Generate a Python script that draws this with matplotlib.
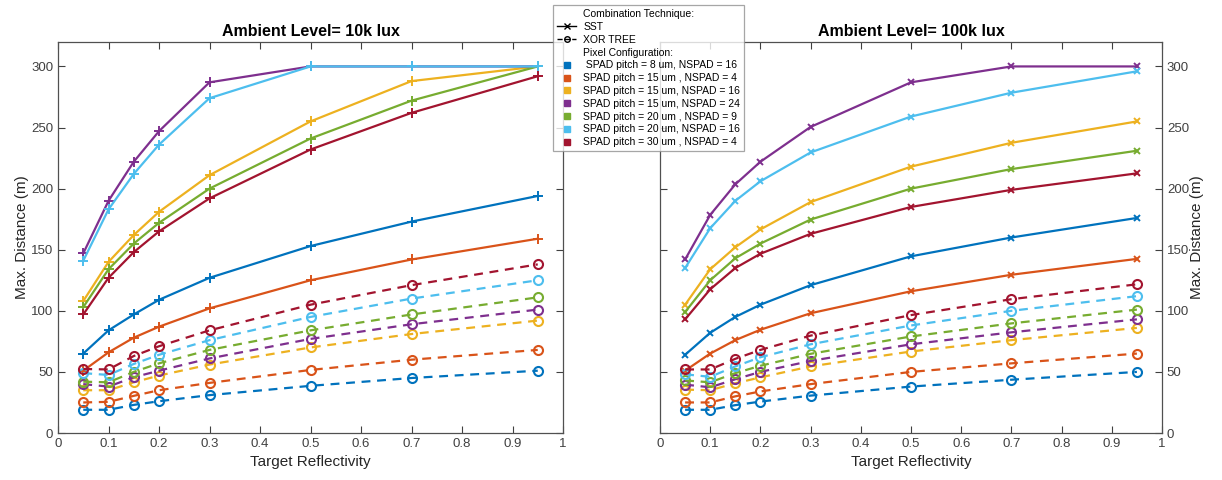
import matplotlib
matplotlib.use("Agg")
import matplotlib.pyplot as plt
from matplotlib.lines import Line2D

plt.rcParams["font.family"] = ["Liberation Sans", "DejaVu Sans"]

COLORS = ["#0072BD", "#D95319", "#EDB120", "#7E2F8E", "#77AC30", "#4DBEEE", "#A2142F"]
CONFIGS = [
    " SPAD pitch = 8 um, NSPAD = 16",
    "SPAD pitch = 15 um , NSPAD = 4",
    "SPAD pitch = 15 um, NSPAD = 16",
    "SPAD pitch = 15 um, NSPAD = 24",
    "SPAD pitch = 20 um , NSPAD = 9",
    "SPAD pitch = 20 um, NSPAD = 16",
    "SPAD pitch = 30 um , NSPAD = 4",
]

reflectivity = [0.05, 0.1, 0.15, 0.2, 0.3, 0.5, 0.7, 0.95]

# Ambient 10k lux, one row per pixel configuration (same order as CONFIGS)
sst_10k = [
    [65, 84, 97, 109, 127, 153, 173, 194],
    [51, 66, 78, 87, 102, 125, 142, 159],
    [108, 140, 162, 181, 211, 255, 288, 300],
    [147, 190, 222, 247, 287, 300, 300, 300],
    [103, 134, 155, 172, 200, 241, 272, 300],
    [141, 183, 212, 236, 274, 300, 300, 300],
    [97, 127, 148, 165, 192, 232, 262, 292],
]
xor_10k = [
    [19, 19, 23, 26, 31, 38.6, 45, 51],
    [25, 25.5, 30.4, 35, 41, 51.6, 60, 68],
    [35, 35, 41.5, 47, 56, 70, 81, 92],
    [40, 38, 45.6, 51, 61, 77, 89, 101],
    [42, 41.5, 50, 57, 68, 84, 97, 111],
    [49, 47.5, 56.5, 64, 76, 95, 110, 125],
    [52.4, 52, 63, 71, 84, 105, 121, 138],
]

# Ambient 100k lux
sst_100k = [
    [64, 82, 95, 105, 121, 144.6, 160, 176],
    [51, 65, 76, 84.5, 98, 116, 129.5, 142.5],
    [105, 134, 152, 166.6, 189, 218, 237.5, 255],
    [142, 178.5, 203.5, 222, 250.5, 287, 300, 300],
    [99, 125, 143, 155, 174.7, 200, 216, 231],
    [135, 167.6, 190, 206, 229.6, 259, 278.5, 296],
    [93, 117.6, 135, 146.7, 163, 185, 199, 212.5],
]
xor_100k = [
    [19, 19, 22.8, 25.7, 30.6, 38, 43.6, 50],
    [25, 25, 30, 34, 40, 50, 57, 65],
    [35.5, 35, 40.7, 45.5, 54.5, 66.7, 76, 86],
    [39.6, 37.4, 44, 50, 59, 72.6, 82.4, 93],
    [43, 41.5, 49, 55, 64.8, 79, 89.7, 101],
    [48, 46, 54.5, 62, 72.6, 88, 100, 112],
    [52, 52, 60.7, 68, 79.7, 96.5, 109.5, 121.7],
]

W, H = 1222, 480
fig = plt.figure(figsize=(W / 100, H / 100), dpi=100)
ax1 = fig.add_axes([58 / W, 47 / H, 505 / W, 391 / H])
ax2 = fig.add_axes([660 / W, 47 / H, 502 / W, 391 / H])


def draw(ax, sst, xor, sst_marker, sst_ms, title):
    for c, s, x in zip(COLORS, sst, xor):
        ax.plot(reflectivity, x, "--", color=c, lw=1.6, marker="o", ms=6.5,
                mfc="none", mew=1.5, dashes=(4, 3))
        ax.plot(reflectivity, s, "-", color=c, lw=1.6, marker=sst_marker, ms=sst_ms, mew=1.4)
    ax.set_xlim(0, 1)
    ax.set_ylim(0, 320)
    ax.set_xticks([i / 10 for i in range(11)])
    ax.set_xticklabels(["0", "0.1", "0.2", "0.3", "0.4", "0.5", "0.6", "0.7", "0.8", "0.9", "1"])
    ax.set_yticks(range(0, 301, 50))
    ax.tick_params(direction="in", top=True, right=True, labelsize=9.5,
                   colors="#404040", length=5, width=0.8)
    for sp in ax.spines.values():
        sp.set_color("#505050")
        sp.set_linewidth(0.9)
    ax.set_title(title, fontsize=11.5, fontweight="bold", pad=4)
    ax.set_xlabel("Target Reflectivity", fontsize=11, color="#262626")
    ax.set_ylabel("Max. Distance (m)", fontsize=11, color="#262626", labelpad=1)


draw(ax1, sst_10k, xor_10k, "+", 6.5, "Ambient Level= 10k lux")
draw(ax2, sst_100k, xor_100k, "x", 5, "Ambient Level= 100k lux")
ax2.yaxis.tick_right()
ax2.yaxis.set_label_position("right")
ax2.tick_params(axis="y", left=True, right=True)

blank = Line2D([], [], linestyle="none")
handles = [blank,
           Line2D([], [], color="black", lw=1, marker="x", ms=4),
           Line2D([], [], color="black", lw=1, ls="--", marker="o", ms=4, mfc="none"),
           blank]
labels = ["Combination Technique:", "SST", "XOR TREE", "Pixel Configuration:"]
for c, lab in zip(COLORS, CONFIGS):
    handles.append(Line2D([], [], color=c, ls="none", marker="s", ms=5))
    labels.append(lab)

leg = fig.legend(handles, labels, loc="upper left", bbox_to_anchor=(553 / W, 1 - 5 / H),
                 fontsize=7.5, frameon=True, fancybox=False, edgecolor="#909090",
                 handlelength=1.8, handletextpad=0.7, labelspacing=0.27,
                 borderpad=0.4, borderaxespad=0)
leg.get_frame().set_linewidth(0.9)

fig.savefig("out.png", dpi=100, facecolor="white")
